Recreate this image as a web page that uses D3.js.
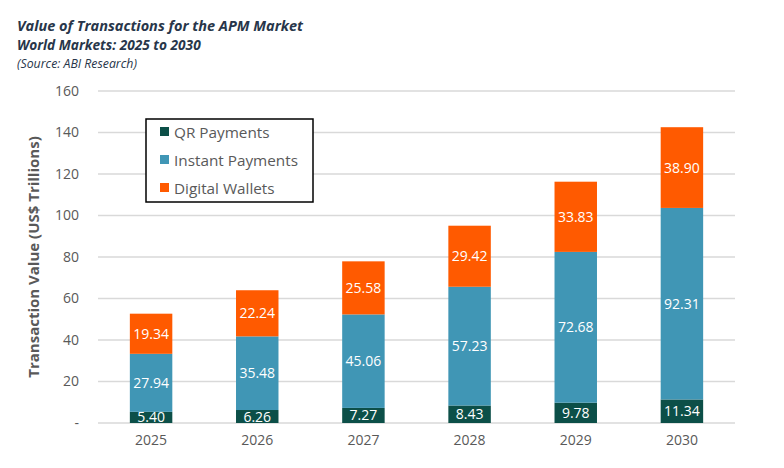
<!DOCTYPE html>
<meta charset="utf-8">
<style>
body { margin: 0; background: #fff; }
text { font-family: "Open Sans", "Noto Sans", sans-serif; }
.grid line { stroke: #d9d9d9; stroke-width: 1.3; }
.tick text { fill: #595959; font-size: 14px; }
</style>
<svg width="784" height="468"></svg>
<script src="https://cdn.jsdelivr.net/npm/d3@7/dist/d3.min.js"></script>
<script>

var years = ["2025", "2026", "2027", "2028", "2029", "2030"];
var qrPayments = [5.40, 6.26, 7.27, 8.43, 9.78, 11.34];
var instantPayments = [27.94, 35.48, 45.06, 57.23, 72.68, 92.31];
var digitalWallets = [19.34, 22.24, 25.58, 29.42, 33.83, 38.90];
var seriesNames = ["QR Payments", "Instant Payments", "Digital Wallets"];
var yTicks = [0, 20, 40, 60, 80, 100, 120, 140, 160];

var colors = ["#0c4f48", "#4096b5", "#ff5a00"];

var svg = d3.select("svg");

var x = d3.scaleBand()
    .domain(years)
    .range([98, 735])
    .paddingInner(0.6)
    .paddingOuter(0.3);

var y = d3.scaleLinear()
    .domain([0, 160])
    .range([423, 91]);

// table for stacking
var table = years.map(function(yr, i) {
  return { year: yr, "QR Payments": qrPayments[i], "Instant Payments": instantPayments[i], "Digital Wallets": digitalWallets[i] };
});
var stack = d3.stack().keys(seriesNames)(table);

// titles
svg.append("text")
    .attr("x", 17).attr("y", 31)
    .attr("font-size", 14.5).attr("font-weight", "bold").attr("font-style", "italic")
    .attr("fill", "#28364a")
    .text("Value of Transactions for the APM Market");
svg.append("text")
    .attr("x", 17).attr("y", 50)
    .attr("font-size", 13.7).attr("font-weight", "bold").attr("font-style", "italic")
    .attr("fill", "#28364a")
    .text("World Markets: 2025 to 2030");
svg.append("text")
    .attr("x", 17).attr("y", 68)
    .attr("font-size", 12.3).attr("font-style", "italic")
    .attr("fill", "#28364a")
    .text("(Source: ABI Research)");

// gridlines
svg.append("g")
    .attr("class", "grid")
  .selectAll("line")
  .data(yTicks)
  .enter().append("line")
    .attr("x1", 98).attr("x2", 735)
    .attr("y1", function(d) { return y(d); })
    .attr("y2", function(d) { return y(d); });

// y axis labels
var yAxis = svg.append("g")
    .attr("transform", "translate(79,0)")
    .call(d3.axisLeft(y).tickValues(yTicks).tickSize(0).tickPadding(0)
      .tickFormat(function(d) { return d === 0 ? "-" : d; }));
yAxis.select(".domain").remove();

// x axis labels
var xAxis = svg.append("g")
    .attr("transform", "translate(0,423)")
    .call(d3.axisBottom(x).tickSize(0).tickPadding(12));
xAxis.select(".domain").remove();

svg.append("text")
    .attr("transform", "translate(39,257) rotate(-90)")
    .attr("text-anchor", "middle")
    .attr("font-size", 15).attr("font-weight", "bold")
    .attr("fill", "#595959")
    .text("Transaction Value (US$ Trillions)");

// bars
var layers = svg.append("g").selectAll("g")
  .data(stack)
  .enter().append("g")
    .attr("fill", function(d, i) { return colors[i]; });

layers.selectAll("rect")
  .data(function(d) { return d; })
  .enter().append("rect")
    .attr("x", function(d) { return x(d.data.year); })
    .attr("width", x.bandwidth())
    .attr("y", function(d) { return y(d[1]); })
    .attr("height", function(d) { return y(d[0]) - y(d[1]); });

layers.selectAll("text")
  .data(function(d) { var key = d.key; return d.map(function(p) { return { p: p, v: p.data[key] }; }); })
  .enter().append("text")
    .attr("x", function(d) { return x(d.p.data.year) + x.bandwidth() / 2; })
    .attr("y", function(d) { return (y(d.p[0]) + y(d.p[1])) / 2; })
    .attr("dy", "0.36em")
    .attr("text-anchor", "middle")
    .attr("font-size", 14)
    .attr("fill", "#fff")
    .text(function(d) { return d.v.toFixed(2); });

// legend
var legend = svg.append("g").attr("transform", "translate(146,119)");
legend.append("rect")
    .attr("width", 167).attr("height", 83)
    .attr("fill", "#fff").attr("stroke", "#000").attr("stroke-width", 1.5);
var item = legend.selectAll("g.item")
  .data(seriesNames)
  .enter().append("g")
    .attr("class", "item")
    .attr("transform", function(d, i) { return "translate(14," + (8 + i * 28) + ")"; });
item.append("rect")
    .attr("width", 9).attr("height", 9)
    .attr("fill", function(d, i) { return colors[i]; });
item.append("text")
    .attr("x", 14).attr("y", 5).attr("dy", "0.36em")
    .attr("font-size", 15.3)
    .attr("fill", "#595959")
    .text(function(d) { return d; });

</script>
